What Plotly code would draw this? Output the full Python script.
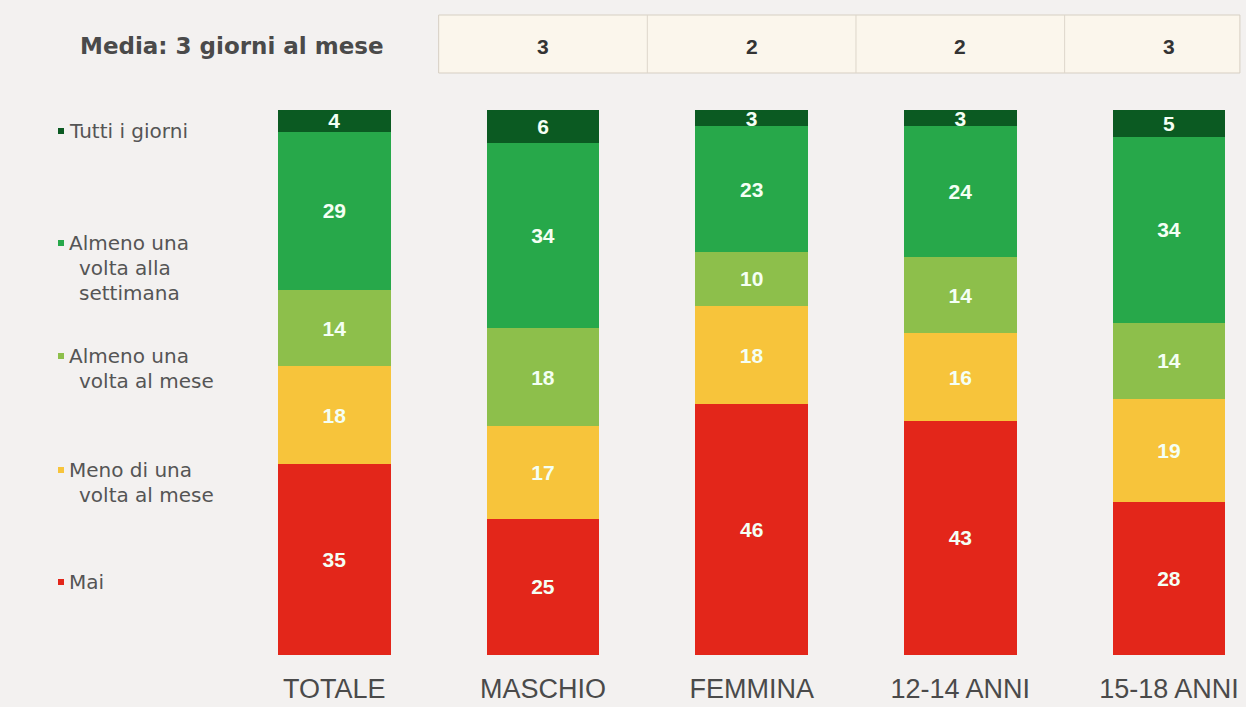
import plotly.graph_objects as go

categories = ["TOTALE", "MASCHIO", "FEMMINA", "12-14 ANNI", "15-18 ANNI"]
series_names = ["Mai", "Meno di una volta al mese", "Almeno una volta al mese",
                "Almeno una volta alla settimana", "Tutti i giorni"]
mai = [35, 25, 46, 43, 28]
meno_mese = [18, 17, 18, 16, 19]
almeno_mese = [14, 18, 10, 14, 14]
almeno_settimana = [29, 34, 23, 24, 34]
tutti_giorni = [4, 6, 3, 3, 5]
values = [mai, meno_mese, almeno_mese, almeno_settimana, tutti_giorni]
colors = ["#e3261a", "#f7c43b", "#8dbf4b", "#27a84a", "#0b5a22"]

media_label = "Media: 3 giorni al mese"
media_cats = ["MASCHIO", "FEMMINA", "12-14 ANNI", "15-18 ANNI"]
media_vals = ["3", "2", "2", "3"]

legend_lines = [
    ["Tutti i giorni"],
    ["Almeno una", "volta alla", "settimana"],
    ["Almeno una", "volta al mese"],
    ["Meno di una", "volta al mese"],
    ["Mai"],
]
legend_colors = ["#0b5a22", "#27a84a", "#8dbf4b", "#f7c43b", "#e3261a"]
legend_top_px = [131, 243, 356, 470, 582]

FONT = "Liberation Sans, Arial, sans-serif"
WIDE = "DejaVu Sans, sans-serif"
W, H = 1246, 707
ML, MR, MT, MB = 230, 4, 110, 52
PH = H - MT - MB
PW = W - ML - MR


def py(p):
    return (H - MB - p) / PH


def px(p):
    return (p - ML) / PW


fig = go.Figure()
for name, vals, col in zip(series_names, values, colors):
    fig.add_trace(go.Bar(
        x=categories, y=vals, name=name, marker=dict(color=col, line=dict(width=0)),
        text=[str(v) for v in vals], textposition="inside", insidetextanchor="middle",
        textangle=0, constraintext="none",
        textfont=dict(color="#f4fff4", size=21, family=FONT, weight="bold"),
        width=0.54, showlegend=False,
    ))

shapes = []
annotations = []

# top "media" box
shapes.append(dict(type="rect", xref="x", yref="paper", x0=0.5, x1=4.34,
                   y0=py(73), y1=py(15), fillcolor="#fbf6ec",
                   line=dict(color="#d6cfc3", width=1), layer="below"))
for d in [1.5, 2.5, 3.5]:
    shapes.append(dict(type="line", xref="x", yref="paper", x0=d, x1=d,
                       y0=py(73), y1=py(15), line=dict(color="#ddd6cb", width=1)))
for c, v in zip(media_cats, media_vals):
    annotations.append(dict(x=c, xref="x", y=py(46), yref="paper", yanchor="middle",
                            text=v, showarrow=False,
                            font=dict(size=21, color="#333333", family=FONT, weight="bold")))
annotations.append(dict(x=px(78), xref="paper", xanchor="left", y=py(46), yref="paper",
                        yanchor="middle", text=media_label, showarrow=False,
                        font=dict(size=23, color="#4a4a4a", family=WIDE, weight="bold")))

# left legend
for lines, col, top in zip(legend_lines, legend_colors, legend_top_px):
    shapes.append(dict(type="rect", xref="paper", yref="paper",
                       x0=px(58), x1=px(64), y0=py(top + 3), y1=py(top - 3),
                       fillcolor=col, line=dict(width=0)))
    for i, ln in enumerate(lines):
        annotations.append(dict(x=px(67 if i == 0 else 77), xref="paper", xanchor="left",
                                y=py(top + 25 * i), yref="paper", yanchor="middle",
                                text=ln, showarrow=False,
                                font=dict(size=20, color="#555555", family=WIDE)))

fig.update_layout(
    barmode="stack",
    width=W, height=H,
    margin=dict(l=ML, r=MR, t=MT, b=MB),
    paper_bgcolor="#f3f1f0", plot_bgcolor="#f3f1f0",
    xaxis=dict(range=[-0.5, 4.35], showgrid=False, zeroline=False, showline=False,
               ticks="", ticklabelstandoff=15,
               tickfont=dict(size=27, color="#4a4a4a", family=FONT)),
    yaxis=dict(range=[0, 100], visible=False),
    shapes=shapes, annotations=annotations,
    font=dict(family=FONT),
)

fig.write_html("out.html")
